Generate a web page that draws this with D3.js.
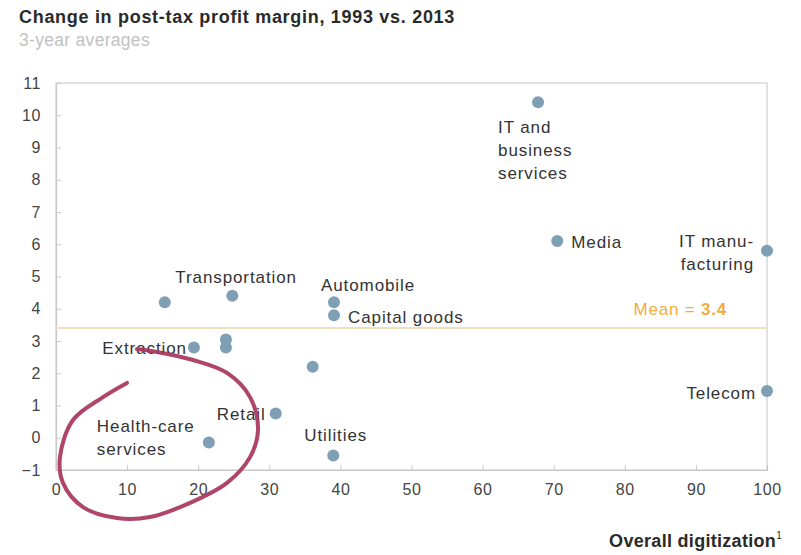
<!DOCTYPE html>
<html>
<head>
<meta charset="utf-8">
<script src="https://cdn.jsdelivr.net/npm/d3@7"></script>
<style>
  html, body { margin: 0; padding: 0; background: #fff; }
  svg { display: block; font-family: "Liberation Sans", Arial, Helvetica, sans-serif; }
</style>
</head>
<body>
<svg id="chart" width="801" height="555"></svg>
<script>
// ---- data ----
const sectors = ["IT and business services", "Media", "IT manufacturing", "Telecom",
  "Transportation", "Unlabeled A", "Automobile", "Capital goods", "Extraction",
  "Unlabeled B", "Unlabeled C", "Unlabeled D", "Retail", "Health-care services", "Utilities"];
const digitization = [67.8, 70.5, 100, 100, 24.8, 15.3, 39.1, 39.1, 19.4, 23.9, 23.9, 36.1, 30.9, 21.5, 39.0];
const marginChange = [10.4, 6.1, 5.8, 1.45, 4.4, 4.2, 4.2, 3.8, 2.8, 3.05, 2.8, 2.2, 0.75, -0.15, -0.55];
const meanValue = 3.4;
const xTicks = [0, 10, 20, 30, 40, 50, 60, 70, 80, 90, 100];
const yTicks = [-1, 0, 1, 2, 3, 4, 5, 6, 7, 8, 9, 10, 11];
// hand-drawn annotation loop (data units)
const loopX = [9.99, 6.61, 2.39, 0.56, 0.98, 3.80, 8.58, 13.22, 18.85, 24.05, 27.29, 28.41, 27.29, 24.05, 19.27, 14.21, 11.39];
const loopY = [1.70, 1.26, 0.55, -0.60, -1.40, -2.15, -2.49, -2.46, -2.02, -1.40, -0.60, 0.24, 1.26, 2.01, 2.41, 2.66, 2.75];

// ---- label layout (offsets from point, px) ----
const labelLayout = {
  "IT and business services": {lines: ["IT and", "business", "services"], dx: -40, dy: 31, anchor: "start"},
  "Media": {lines: ["Media"], dx: 14, dy: 7, anchor: "start"},
  "IT manufacturing": {lines: ["IT manu-", "facturing"], dx: -13, dy: -4, anchor: "end"},
  "Telecom": {lines: ["Telecom"], dx: -11, dy: 8, anchor: "end"},
  "Transportation": {lines: ["Transportation"], dx: -57, dy: -13, anchor: "start"},
  "Automobile": {lines: ["Automobile"], dx: -13, dy: -11, anchor: "start"},
  "Capital goods": {lines: ["Capital goods"], dx: 14, dy: 8, anchor: "start"},
  "Extraction": {lines: ["Extraction"], dx: -7, dy: 7, anchor: "end"},
  "Retail": {lines: ["Retail"], dx: -10, dy: 6, anchor: "end"},
  "Health-care services": {lines: ["Health-care", "services"], dx: -112, dy: -11, anchor: "start"},
  "Utilities": {lines: ["Utilities"], dx: -29, dy: -14, anchor: "start"}
};

const svg = d3.select("#chart");
const L = 56, R = 767, T = 83, B = 470;
const x = d3.scaleLinear().domain([0, 100]).range([L, R]);
const y = d3.scaleLinear().domain([-1, 11]).range([B, T]);

// title
svg.append("text").attr("x", 19).attr("y", 23)
  .attr("font-size", 18).attr("font-weight", "bold").attr("fill", "#2a2a2a").attr("letter-spacing", 0.7)
  .text("Change in post-tax profit margin, 1993 vs. 2013");
svg.append("text").attr("x", 19).attr("y", 46)
  .attr("font-size", 17.5).attr("fill", "#c2c2c2").attr("letter-spacing", 0.3)
  .text("3-year averages");

// frame
svg.append("rect").attr("x", L).attr("y", T).attr("width", R - L).attr("height", B - T)
  .attr("fill", "none").attr("stroke", "#cfcfcf").attr("stroke-width", 1.2);

// axes
const yAxis = d3.axisLeft(y).tickValues(yTicks).tickSize(-5).tickPadding(15).tickFormat(d3.format("d"));
const gy = svg.append("g").attr("transform", `translate(${L},0)`).call(yAxis);
const xAxis = d3.axisBottom(x).tickValues(xTicks).tickSize(-5).tickPadding(14).tickFormat(d3.format("d"));
const gx = svg.append("g").attr("transform", `translate(0,${B})`).call(xAxis);
[gy, gx].forEach(g => {
  g.select(".domain").attr("stroke", "#c8c8c8").attr("stroke-width", 1.2);
  g.selectAll(".tick line").attr("stroke", "#c8c8c8");
  g.selectAll(".tick text").attr("font-size", 16).attr("fill", "#444")
    .attr("font-family", "'Liberation Sans', Arial, sans-serif").attr("letter-spacing", 0.6);
});

// mean line
svg.append("line").attr("x1", L).attr("x2", R).attr("y1", y(meanValue)).attr("y2", y(meanValue))
  .attr("stroke", "#eee0bc").attr("stroke-width", 2);
const mt = svg.append("text").attr("x", 727).attr("y", y(meanValue) - 13)
  .attr("text-anchor", "end").attr("font-size", 17).attr("fill", "#f2ad3c").attr("letter-spacing", 0.8);
mt.append("tspan").text("Mean = ");
mt.append("tspan").attr("font-weight", "bold").text(d3.format(".1f")(meanValue));

// points
const pts = sectors.map((s, i) => ({name: s, x: digitization[i], y: marginChange[i]}));
svg.append("g").selectAll("circle").data(pts).join("circle")
  .attr("cx", d => x(d.x)).attr("cy", d => y(d.y)).attr("r", 6)
  .attr("fill", "#7f9fb5");

// labels
const lg = svg.append("g");
pts.forEach(d => {
  const lay = labelLayout[d.name];
  if (!lay) return;
  const t = lg.append("text")
    .attr("x", x(d.x) + lay.dx).attr("y", y(d.y) + lay.dy)
    .attr("text-anchor", lay.anchor).attr("font-size", 17).attr("fill", "#333")
    .attr("letter-spacing", 0.9);
  lay.lines.forEach((ln, k) => {
    t.append("tspan").attr("x", x(d.x) + lay.dx).attr("dy", k === 0 ? 0 : 23).text(ln);
  });
});

// x axis title
const xt = svg.append("text").attr("x", 782).attr("y", 547).attr("text-anchor", "end")
  .attr("font-size", 18).attr("font-weight", "bold").attr("fill", "#2a2a2a").attr("letter-spacing", 0.3);
xt.append("tspan").text("Overall digitization");
xt.append("tspan").attr("font-size", 10).attr("font-weight", "normal").attr("dy", -8).text("1");

// annotation loop
const loop = loopX.map((v, i) => [x(v), y(loopY[i])]);
svg.append("path").attr("d", d3.line().curve(d3.curveCatmullRom)(loop))
  .attr("fill", "none").attr("stroke", "#a8355a").attr("stroke-width", 4)
  .attr("stroke-linecap", "round").attr("opacity", 0.92);
</script>
</body>
</html>
